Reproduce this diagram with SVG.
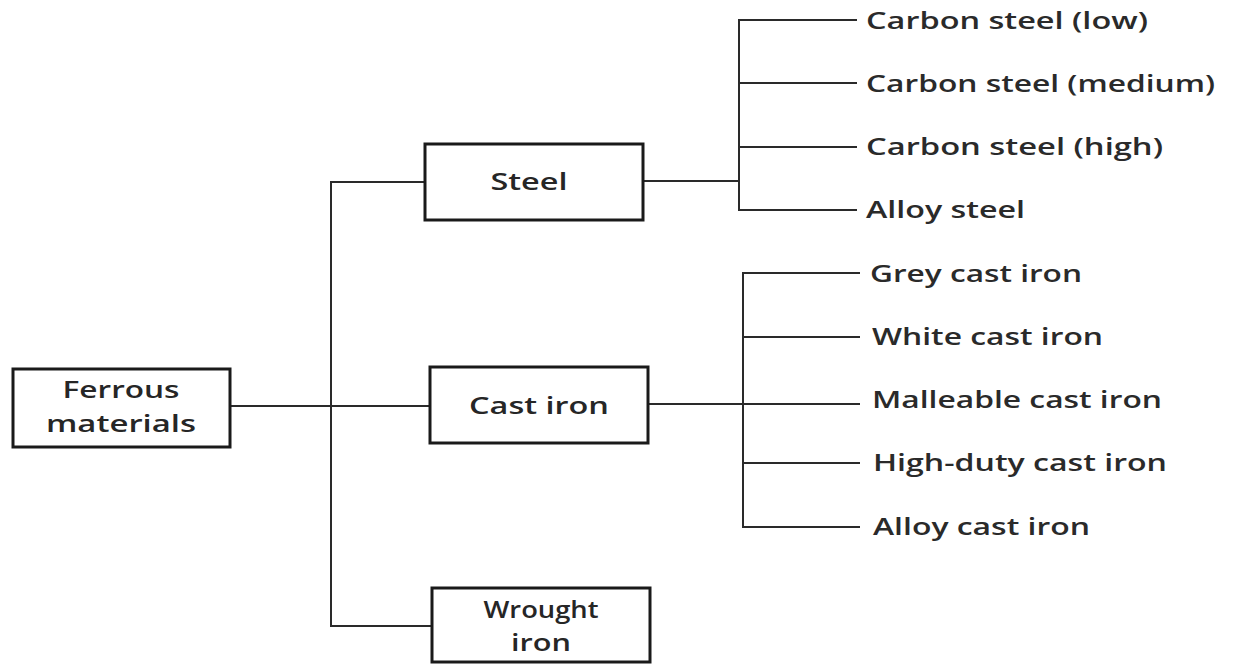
<svg xmlns="http://www.w3.org/2000/svg" width="1244" height="665" viewBox="0 0 1244 665">
<style>
.box{fill:#fff;stroke:#1a1a1a;stroke-width:3}
.ln{fill:none;stroke:#2a2a2a;stroke-width:2}
.bt{font-family:"Open Sans","Noto Sans",sans-serif;font-size:24px;font-weight:600;fill:#262626;text-anchor:middle}
.lt{font-family:"Open Sans","Noto Sans",sans-serif;font-size:24px;font-weight:600;fill:#2a2a2a}
</style>
<rect width="1244" height="665" fill="#fff"/>
<g id="connectors">
<path class="ln" d="M230 406 H430"/>
<path class="ln" d="M425 182 H331 V626 H432"/>
<path class="ln" d="M643 181 H739"/>
<path class="ln" d="M857 20 H739 V210 H857 M739 83 H857 M739 147 H857"/>
<path class="ln" d="M648 404 H860"/>
<path class="ln" d="M860 273 H743 V527 H860 M743 337 H860 M743 463 H860"/>
</g>
<g id="ferrous">
<rect class="box" x="13" y="369" width="217" height="78"/>
<text class="bt" x="121" y="398" textLength="117" lengthAdjust="spacingAndGlyphs">Ferrous</text>
<text class="bt" x="121" y="432" textLength="150" lengthAdjust="spacingAndGlyphs">materials</text>
</g>
<g id="steel">
<rect class="box" x="425" y="144" width="218" height="76"/>
<text class="bt" x="529" y="190" textLength="77" lengthAdjust="spacingAndGlyphs">Steel</text>
</g>
<g id="castiron">
<rect class="box" x="430" y="367" width="218" height="76"/>
<text class="bt" x="539" y="414" textLength="140" lengthAdjust="spacingAndGlyphs">Cast iron</text>
</g>
<g id="wrought">
<rect class="box" x="432" y="588" width="218" height="74"/>
<text class="bt" x="541" y="618" textLength="115" lengthAdjust="spacingAndGlyphs">Wrought</text>
<text class="bt" x="541" y="651" textLength="60" lengthAdjust="spacingAndGlyphs">iron</text>
</g>
<g id="steel-types">
<text class="lt" x="866" y="29" textLength="282" lengthAdjust="spacingAndGlyphs">Carbon steel (low)</text>
<text class="lt" x="866" y="92" textLength="349" lengthAdjust="spacingAndGlyphs">Carbon steel (medium)</text>
<text class="lt" x="866" y="155" textLength="297" lengthAdjust="spacingAndGlyphs">Carbon steel (high)</text>
<text class="lt" x="866" y="218" textLength="159" lengthAdjust="spacingAndGlyphs">Alloy steel</text>
</g>
<g id="castiron-types">
<text class="lt" x="870" y="282" textLength="212" lengthAdjust="spacingAndGlyphs">Grey cast iron</text>
<text class="lt" x="872" y="345" textLength="231" lengthAdjust="spacingAndGlyphs">White cast iron</text>
<text class="lt" x="872" y="408" textLength="290" lengthAdjust="spacingAndGlyphs">Malleable cast iron</text>
<text class="lt" x="873" y="471" textLength="294" lengthAdjust="spacingAndGlyphs">High-duty cast iron</text>
<text class="lt" x="873" y="535" textLength="217" lengthAdjust="spacingAndGlyphs">Alloy cast iron</text>
</g>
</svg>
